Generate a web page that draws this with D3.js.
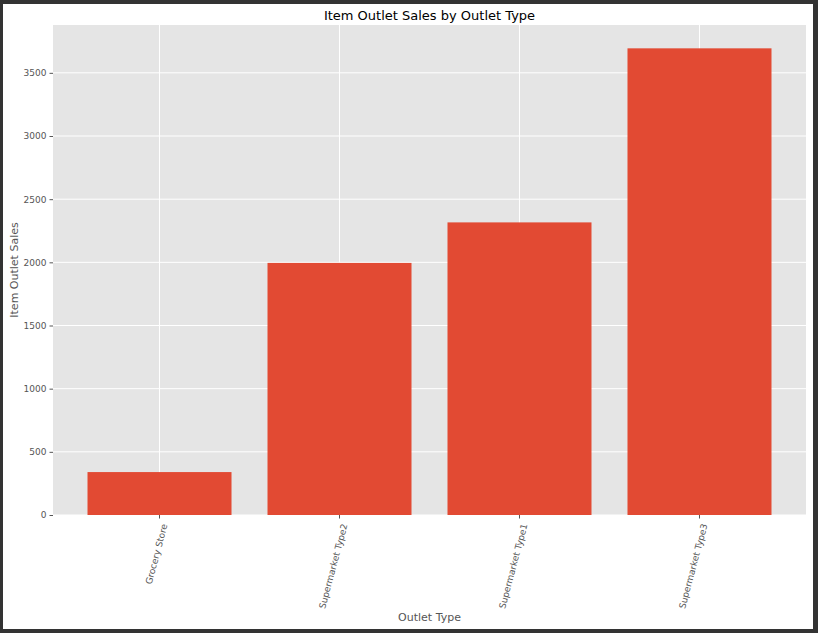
<!doctype html>
<html>
<head>
  <meta charset="utf-8">
  <title>Item Outlet Sales by Outlet Type</title>
  <script src="https://d3js.org/d3.v7.min.js"></script>
  <style>
    html, body { margin: 0; padding: 0; background: #333333; }
    svg { display: block; }
    .tick text { font-family: "DejaVu Sans", sans-serif; font-size: 9px; fill: #555555; }
    .tick line { stroke: #555555; }
    .domain { display: none; }
  </style>
</head>
<body>
<script>

// data
var outletTypes = ["Grocery Store", "Supermarket Type2", "Supermarket Type1", "Supermarket Type3"];
var meanSales = [339.8, 1995.5, 2316.2, 3694.0];
var yTicks = [0, 500, 1000, 1500, 2000, 2500, 3000, 3500];

var W = 818, H = 633;
var plot = {left: 53, right: 806, top: 25, bottom: 515};

var svg = d3.select("body").append("svg")
    .attr("width", W)
    .attr("height", H);

// white page inside the dark frame
svg.append("rect")
    .attr("x", 3).attr("y", 4)
    .attr("width", 810).attr("height", 625)
    .attr("fill", "#ffffff");

var x = d3.scaleBand()
    .domain(outletTypes)
    .range([plot.left, plot.right])
    .paddingInner(0.2)
    .paddingOuter(0.1917);

var ymax = d3.max(meanSales) * 1.05;
var y = d3.scaleLinear()
    .domain([0, ymax])
    .range([plot.bottom, plot.top]);

// plot background
svg.append("rect")
    .attr("x", plot.left).attr("y", plot.top)
    .attr("width", plot.right - plot.left)
    .attr("height", plot.bottom - plot.top)
    .attr("fill", "#e5e5e5");

// grid
svg.append("g").selectAll("line")
    .data(yTicks)
    .enter().append("line")
    .attr("x1", plot.left).attr("x2", plot.right)
    .attr("y1", function(d) { return y(d); })
    .attr("y2", function(d) { return y(d); })
    .attr("stroke", "#ffffff")
    .attr("stroke-width", 1);

svg.append("g").selectAll("line")
    .data(outletTypes)
    .enter().append("line")
    .attr("x1", function(d) { return x(d) + x.bandwidth() / 2; })
    .attr("x2", function(d) { return x(d) + x.bandwidth() / 2; })
    .attr("y1", plot.top).attr("y2", plot.bottom)
    .attr("stroke", "#ffffff")
    .attr("stroke-width", 1);

// bars
svg.append("g").selectAll("rect")
    .data(outletTypes)
    .enter().append("rect")
    .attr("x", function(d) { return x(d); })
    .attr("width", x.bandwidth())
    .attr("y", function(d, i) { return y(meanSales[i]); })
    .attr("height", function(d, i) { return plot.bottom - y(meanSales[i]); })
    .attr("fill", "#e24a33");

// y axis
svg.append("g")
    .attr("transform", "translate(" + plot.left + ",0)")
    .call(d3.axisLeft(y).tickValues(yTicks).tickSize(3.5).tickPadding(3).tickFormat(d3.format("d")));

// x axis
var xAxis = svg.append("g")
    .attr("transform", "translate(0," + plot.bottom + ")")
    .call(d3.axisBottom(x).tickSize(3.5));

xAxis.selectAll(".tick text")
    .attr("text-anchor", "end")
    .attr("transform", "translate(5,9) rotate(-75)")
    .attr("x", 0)
    .attr("y", 0)
    .attr("dy", "0.35em");

// title and labels
svg.append("text")
    .attr("x", (plot.left + plot.right) / 2)
    .attr("y", 20)
    .attr("text-anchor", "middle")
    .style("font-family", "DejaVu Sans, sans-serif")
    .style("font-size", "13px")
    .attr("fill", "#000000")
    .text("Item Outlet Sales by Outlet Type");

svg.append("text")
    .attr("x", (plot.left + plot.right) / 2)
    .attr("y", 621)
    .attr("text-anchor", "middle")
    .style("font-family", "DejaVu Sans, sans-serif")
    .style("font-size", "11px")
    .attr("fill", "#555555")
    .text("Outlet Type");

svg.append("text")
    .attr("transform", "translate(17.5," + ((plot.top + plot.bottom) / 2) + ") rotate(-90)")
    .attr("text-anchor", "middle")
    .style("font-family", "DejaVu Sans, sans-serif")
    .style("font-size", "11px")
    .attr("fill", "#555555")
    .text("Item Outlet Sales");

</script>
</body>
</html>
